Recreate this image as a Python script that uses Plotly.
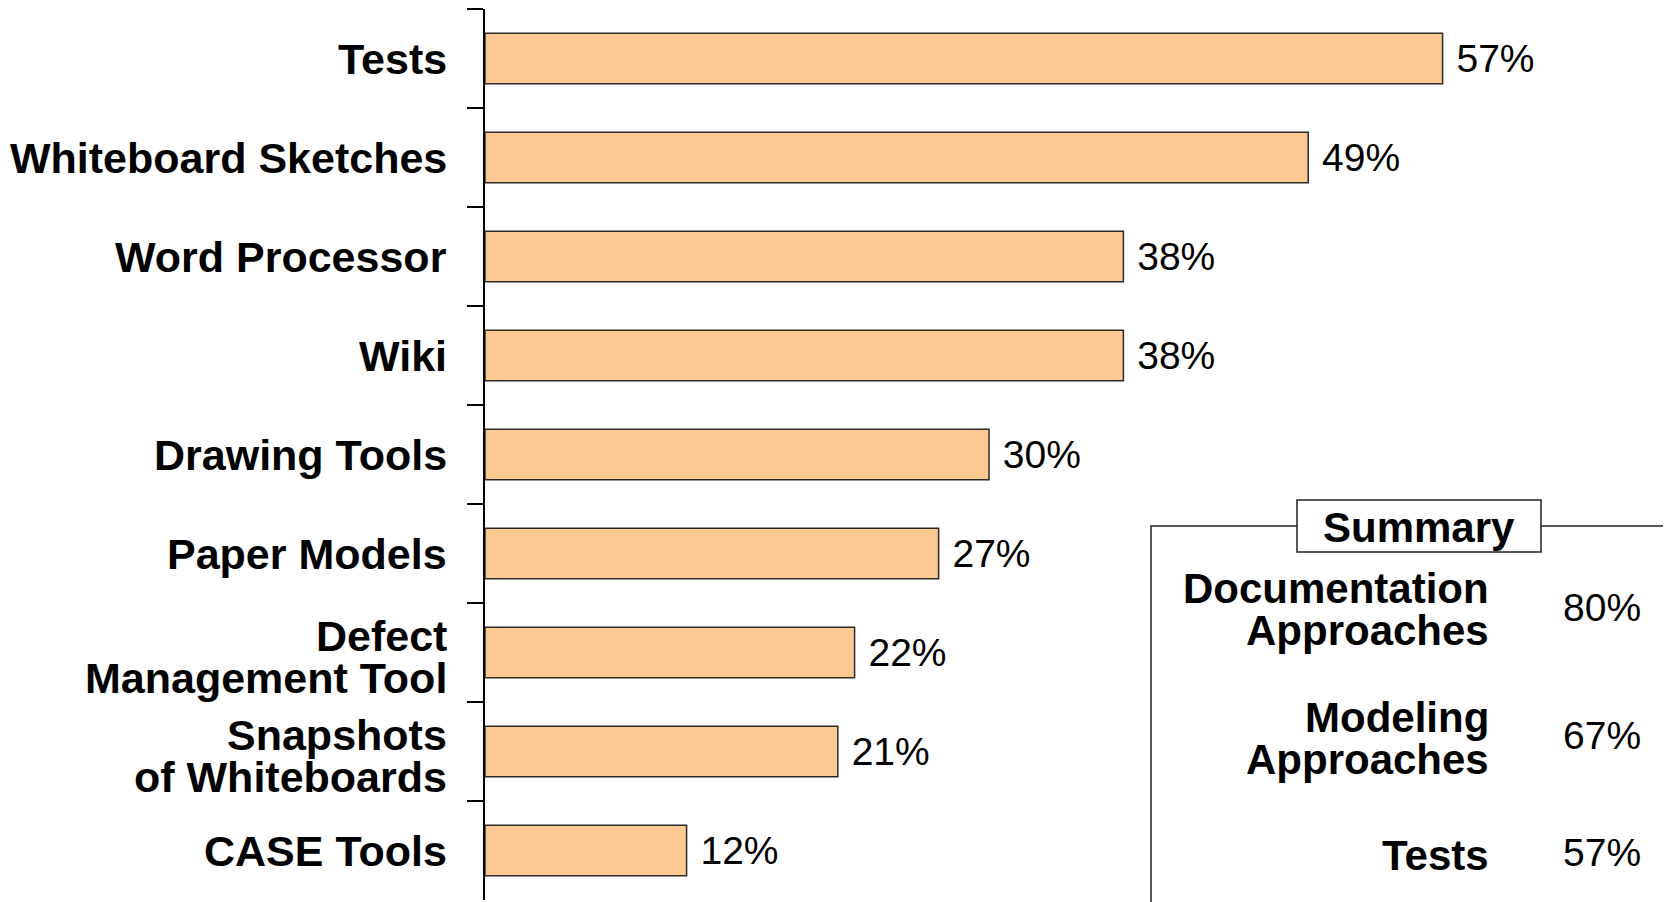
import plotly.graph_objects as go

# Tools used, share of respondents (%)
categories = ["Tests", "Whiteboard Sketches", "Word Processor", "Wiki",
              "Drawing Tools", "Paper Models", "Defect<br>Management Tool",
              "Snapshots<br>of Whiteboards", "CASE Tools"]
values = [57, 49, 38, 38, 30, 27, 22, 21, 12]

# Summary box
summary_labels = ["Documentation<br>Approaches", "Modeling<br>Approaches", "Tests"]
summary_values = [80, 67, 57]

W, H = 1671, 902
OFF = 8  # page offset of the plot div
L, R, T, B = 477, 18, 1, 10
PW, PH = W - L - R, H - T - B


def px(x):
    # screen pixel -> paper x
    return (x - OFF - L) / PW


def py(y):
    # screen pixel -> paper y
    return (T + PH - (y - OFF)) / PH


FONT = "Liberation Sans, Arial, sans-serif"

fig = go.Figure(go.Bar(
    y=categories,
    x=values,
    orientation="h",
    marker=dict(color="#FDC891", line=dict(color="#2b2b2b", width=1.5)),
    texttemplate=" %{x}%",
    textposition="outside",
    constraintext="none",
    cliponaxis=False,
    textfont=dict(family=FONT, size=39, color="black"),
))

fig.update_layout(
    template="none",
    width=W, height=H,
    margin=dict(l=L, r=R, t=T, b=B),
    paper_bgcolor="white",
    plot_bgcolor="white",
    bargap=0.49,
    showlegend=False,
    xaxis=dict(range=[0, 70], visible=False, fixedrange=True),
    yaxis=dict(
        autorange="reversed",
        automargin=False,
        showline=True, linecolor="black", linewidth=2,
        ticks="outside", tickson="boundaries", ticklen=16,
        tickwidth=2, tickcolor="black",
        showticklabels=False,
        showgrid=False, zeroline=False,
    ),
)

# category labels, one annotation per line for tight line spacing
for cat in categories:
    lines = cat.split("<br>")
    n = len(lines)
    for i, line in enumerate(lines):
        shift = (i - (n - 1) / 2) * 42 + (4 if n > 1 else 0)
        fig.add_annotation(xref="paper", yref="y", x=px(449), y=cat,
                           yshift=-shift, text="<b>%s</b>" % line,
                           showarrow=False, xanchor="right", yanchor="middle",
                           font=dict(family=FONT, size=43, color="black"))

# summary box frame
fig.add_shape(type="rect", xref="paper", yref="paper",
              x0=px(1151), x1=px(1669), y0=py(526), y1=py(930),
              line=dict(color="#222", width=1.5), fillcolor="white", layer="above")
fig.add_shape(type="rect", xref="paper", yref="paper",
              x0=px(1297), x1=px(1541), y0=py(500), y1=py(552),
              line=dict(color="#222", width=1.5), fillcolor="white", layer="above")
fig.add_annotation(xref="paper", yref="paper", x=px(1419), y=py(527),
                   text="<b>Summary</b>", showarrow=False,
                   xanchor="center", yanchor="middle",
                   font=dict(family=FONT, size=42, color="black"))

row_y = [610, 738, 855]
for lab, val, yy in zip(summary_labels, summary_values, row_y):
    lines = lab.split("<br>")
    n = len(lines)
    for i, line in enumerate(lines):
        shift = (i - (n - 1) / 2) * 42
        fig.add_annotation(xref="paper", yref="paper", x=px(1491), y=py(yy),
                           yshift=-shift, text="<b>%s</b>" % line,
                           showarrow=False, xanchor="right", yanchor="middle",
                           font=dict(family=FONT, size=42, color="black"))
    fig.add_annotation(xref="paper", yref="paper", x=px(1561), y=py(yy - 3),
                       text="%d%%" % val, showarrow=False,
                       xanchor="left", yanchor="middle",
                       font=dict(family=FONT, size=39, color="black"))

fig.write_html("out.html")
